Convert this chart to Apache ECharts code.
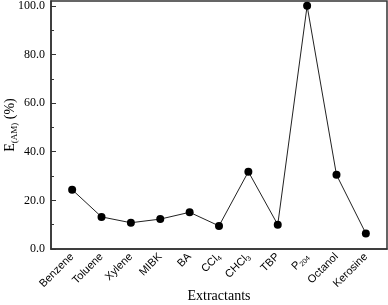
<!DOCTYPE html>
<html>
<head>
<meta charset="utf-8">
<script src="https://cdn.jsdelivr.net/npm/echarts@6/dist/echarts.min.js"></script>
<style>
html, body { margin: 0; padding: 0; background: #fff; }
#chart { width: 388px; height: 305px; }
</style>
</head>
<body>
<div id="chart"></div>
<script>
// extractants, label text uses {s|..} for subscripts
var extractants = ['Benzene', 'Toluene', 'Xylene', 'MIBK', 'BA', 'CCl{s|4}', 'CHCl{s|3}', 'TBP', 'P{s|204}', 'Octanol', 'Kerosine'];
var extraction = [24.4, 13.2, 10.8, 12.3, 15.1, 9.5, 31.8, 10.0, 100.0, 30.5, 6.4];
var yTicks = [0, 20, 40, 60, 80, 100];

var points = [];
for (var i = 0; i < extraction.length; i++) {
    points.push([i, extraction[i]]);
}
var xPositions = extractants.map(function (n, i) { return i; });

var serif = '"Liberation Serif", "DejaVu Serif", serif';
var sans = '"Liberation Sans", Arial, sans-serif';

var chart = echarts.init(document.getElementById('chart'));
chart.setOption({
    animation: false,
    grid: {
        left: 51,
        right: 1,
        top: 1,
        bottom: 56,
        outerBoundsMode: 'none',
        containLabel: false,
        show: true,
        borderColor: '#333',
        borderWidth: 1.5,
        backgroundColor: '#fff'
    },
    xAxis: {
        type: 'value',
        min: -0.72,
        max: 10.72,
        name: 'Extractants',
        nameLocation: 'middle',
        nameGap: 40,
        nameMoveOverlap: false,
        nameTextStyle: { fontFamily: serif, fontSize: 14, color: '#000' },
        axisLine: { show: true, onZero: false, lineStyle: { color: '#333', width: 1.5 } },
        axisTick: { show: false },
        splitLine: { show: false },
        axisLabel: {
            customValues: xPositions,
            rotate: 45,
            margin: 6,
            fontFamily: sans,
            fontSize: 11,
            color: '#000',
            formatter: function (v) { return extractants[Math.round(v)]; },
            rich: {
                s: { fontSize: 7, fontFamily: sans, color: '#000', padding: [6, 0, 0, 0] }
            }
        }
    },
    yAxis: {
        type: 'value',
        min: 0,
        max: 102,
        name: 'E{s|(AM)} (%)',
        nameLocation: 'middle',
        nameGap: 32,
        nameMoveOverlap: false,
        nameTextStyle: {
            fontFamily: serif, fontSize: 14, color: '#000',
            rich: { s: { fontFamily: serif, fontSize: 9, color: '#000', padding: [8, 0, 0, 0] } }
        },
        axisLine: { show: true, onZero: false, lineStyle: { color: '#333', width: 1.5 } },
        axisTick: {
            customValues: yTicks,
            inside: true,
            length: 5,
            lineStyle: { color: '#333' }
        },
        minorTick: {
            show: true,
            splitNumber: 2,
            length: 3,
            lineStyle: { color: '#333' }
        },
        splitLine: { show: false },
        axisLabel: {
            customValues: yTicks,
            margin: 6,
            fontFamily: serif,
            fontSize: 12,
            color: '#000',
            formatter: function (v) { return v.toFixed(1); }
        }
    },
    series: [{
        type: 'line',
        data: points,
        symbol: 'circle',
        symbolSize: 8,
        itemStyle: { color: '#000' },
        lineStyle: { color: '#222', width: 1 }
    }]
});
</script>
</body>
</html>
